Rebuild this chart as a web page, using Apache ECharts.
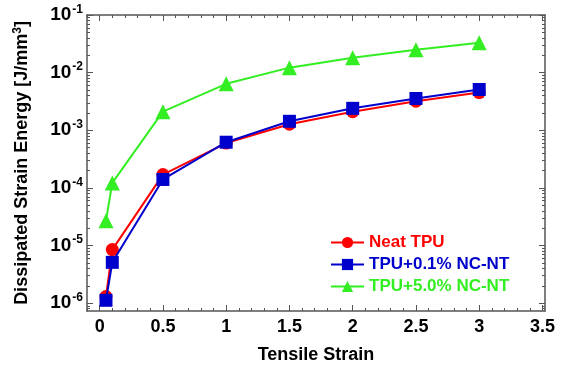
<!DOCTYPE html>
<html>
<head>
<meta charset="utf-8">
<script src="https://cdn.jsdelivr.net/npm/echarts@6/dist/echarts.min.js"></script>
<style>
  html, body { margin: 0; padding: 0; background: #fff; }
  #chart { width: 563px; height: 369px; }
</style>
</head>
<body>
<div id="chart"></div>
<script>
// tensile strain values (x)
const strain = [0.05, 0.1, 0.5, 1, 1.5, 2, 2.5, 3];

// dissipated strain energy [J/mm^3]
const neatTPU = [1.3e-6, 8.5e-6, 1.7e-4, 6.0e-4, 1.27e-3, 2.1e-3, 3.2e-3, 4.5e-3];
const tpu01 = [1.12e-6, 5.1e-6, 1.4e-4, 6.2e-4, 1.43e-3, 2.4e-3, 3.56e-3, 5.1e-3];
const tpu50 = [2.7e-5, 1.22e-4, 2.1e-3, 6.4e-3, 1.22e-2, 1.82e-2, 2.5e-2, 3.3e-2];

const seriesNames = ['Neat TPU', 'TPU+0.1% NC-NT', 'TPU+5.0% NC-NT'];
const seriesColors = ['#ff0000', '#0000cc', '#33ee22'];
const seriesSymbols = ['circle', 'rect', 'triangle'];

// axis ticks
const xTicks = [0, 0.5, 1, 1.5, 2, 2.5, 3, 3.5];
const xMinorTicks = [];
for (let i = -1; i <= 35; i++) {
  if (i % 5 !== 0) xMinorTicks.push(+(i / 10).toFixed(1));
}
const yTicks = [1e-6, 1e-5, 1e-4, 1e-3, 1e-2, 1e-1];
const yMinorTicks = [];
[-7, -6, -5, -4, -3, -2].forEach(function (e) {
  for (let m = 2; m <= 9; m++) yMinorTicks.push(m * Math.pow(10, e));
});

const chart = echarts.init(document.getElementById('chart'));
const axisColor = '#555';
const font = 'Liberation Sans, Arial, sans-serif';

function xAxisDef(pos, minor, withLine) {
  return {
    type: 'value', position: pos, min: -0.1, max: 3.52,
    axisLine: { show: withLine, onZero: false, lineStyle: { color: axisColor, width: 1.5 } },
    axisTick: { show: true, inside: true, length: minor ? 3 : 6, customValues: minor ? xMinorTicks : xTicks,
      lineStyle: { color: axisColor, width: 1 } },
    axisLabel: { show: pos === 'bottom' && !minor, customValues: xTicks, margin: 7,
      color: '#000', fontFamily: font, fontWeight: 'bold', fontSize: 18 },
    splitLine: { show: false }
  };
}

function yAxisDef(pos, minor, withLine) {
  return {
    type: 'log', position: pos, min: 7.3e-7, max: 0.1, logBase: 10,
    axisLine: { show: withLine, onZero: false, lineStyle: { color: axisColor, width: 1.5 } },
    axisTick: { show: true, inside: true, length: minor ? 3 : 6, customValues: minor ? yMinorTicks : yTicks,
      lineStyle: { color: axisColor, width: 1 } },
    axisLabel: {
      show: pos === 'left' && !minor, customValues: yTicks, margin: 4,
      formatter: function (v) {
        return '{b|10}{s|' + Math.round(Math.log10(v)) + '}';
      },
      rich: {
        b: { fontFamily: font, fontWeight: 'bold', fontSize: 19, color: '#000' },
        s: { fontFamily: font, fontWeight: 'bold', fontSize: 12, color: '#000', verticalAlign: 'top', padding: [0, 0, 11, 1] }
      }
    },
    splitLine: { show: false }
  };
}

const series = seriesNames.map(function (name, i) {
  return {
    name: name, type: 'line', xAxisIndex: 0, yAxisIndex: 0,
    data: strain.map(function (x, j) { return [x, [neatTPU, tpu01, tpu50][i][j]]; }),
    symbol: seriesSymbols[i], symbolSize: i === 2 ? 15 : 13,
    itemStyle: { color: seriesColors[i] },
    lineStyle: { color: seriesColors[i], width: 2 },
    z: 10 + i
  };
});

chart.setOption({
  animation: false,
  grid: { left: 87, right: 18, top: 15, bottom: 55 },
  xAxis: [
    Object.assign(xAxisDef('bottom', false, true), {
      name: 'Tensile Strain', nameLocation: 'middle', nameGap: 35,
      nameTextStyle: { color: '#000', fontFamily: font, fontWeight: 'bold', fontSize: 18 }
    }),
    xAxisDef('bottom', true, false),
    xAxisDef('top', false, true),
    xAxisDef('top', true, false)
  ],
  yAxis: [
    Object.assign(yAxisDef('left', false, true), {
      name: 'Dissipated Strain Energy [J/mm{s|3}]', nameLocation: 'middle', nameGap: 54,
      nameTextStyle: { color: '#000', fontFamily: font, fontWeight: 'bold', fontSize: 18,
        rich: { s: { fontFamily: font, fontWeight: 'bold', fontSize: 12, color: '#000', padding: [0, 0, 9, 0] } } }
    }),
    yAxisDef('left', true, false),
    yAxisDef('right', false, true),
    yAxisDef('right', true, false)
  ],
  legend: {
    orient: 'vertical', left: 325, top: 229, itemGap: 5, itemWidth: 33, itemHeight: 14,
    data: seriesNames.map(function (n, i) {
      return { name: n, textStyle: { color: seriesColors[i] } };
    }),
    textStyle: { fontFamily: font, fontWeight: 'bold', fontSize: 17 }
  },
  series: series
});
</script>
</body>
</html>
